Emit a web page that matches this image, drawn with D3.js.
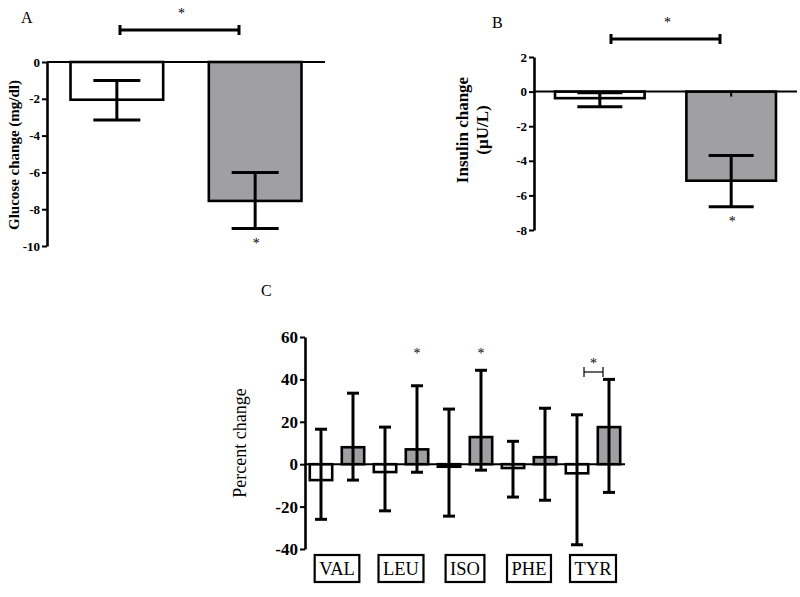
<!DOCTYPE html>
<html>
<head>
<meta charset="utf-8">
<script src="https://cdn.jsdelivr.net/npm/d3@7"></script>
<style>
  html, body { margin: 0; padding: 0; background: #fff; }
  svg { display: block; }
  text { font-family: "Liberation Serif", "Times New Roman", serif; }
</style>
</head>
<body>
<script>
// ---------------- DATA ----------------
const groups = ["Control", "Intervention"];
// Panel A: glucose change (mg/dl)
const glucoseMean = [-2.05, -7.55];
const glucoseLow  = [-3.15, -9.05];
const glucoseHigh = [-1.0, -6.0];
const glucoseTicks = [0, -2, -4, -6, -8, -10];
// Panel B: insulin change (µU/L)
const insulinMean = [-0.38, -5.15];
const insulinLow  = [-0.87, -6.65];
const insulinHigh = [-0.06, -3.7];
const insulinTicks = [2, 0, -2, -4, -6, -8];
// Panel C: percent change of amino acids
const aminoAcids = ["VAL", "LEU", "ISO", "PHE", "TYR"];
const controlMean = [-7.5, -3.7, -1.2, -1.8, -4.3];
const controlLow  = [-26, -22, -24.5, -15.5, -38];
const controlHigh = [16.5, 17.5, 26, 10.8, 23.3];
const treatMean   = [8, 7, 12.8, 3.3, 17.5];
const treatLow    = [-7.5, -3.8, -2.8, -17, -13.3];
const treatHigh   = [33.5, 37, 44.3, 26.4, 40];
const percentTicks = [60, 40, 20, 0, -20, -40];
const starredC = ["LEU", "ISO"];

// ---------------- SETUP ----------------
const W = 800, H = 597;
const svg = d3.select("body").append("svg").attr("width", W).attr("height", H);
const fills = ["#ffffff", "#a0a0a4"];
const ink = "#000";
const fmt = d => String(d);

function errorBar(g, cx, yLow, yHigh, capW, sw) {
  g.append("line").attr("x1", cx).attr("x2", cx).attr("y1", yLow).attr("y2", yHigh)
    .attr("stroke", ink).attr("stroke-width", sw);
  [yLow, yHigh].forEach(yy => g.append("line")
    .attr("x1", cx - capW / 2).attr("x2", cx + capW / 2).attr("y1", yy).attr("y2", yy)
    .attr("stroke", ink).attr("stroke-width", sw));
}

function styleAxis(ax, size) {
  ax.attr("font-family", null);
  ax.select(".domain").attr("stroke", ink).attr("stroke-width", 2.6);
  ax.selectAll(".tick line").attr("stroke", ink).attr("stroke-width", 2);
  ax.selectAll(".tick text").attr("fill", ink)
    .style("font-family", "'Liberation Serif', 'Times New Roman', serif")
    .style("font-weight", "bold").style("font-size", size + "px");
}

function barPanel(opts) {
  const g = svg.append("g");
  const x = d3.scaleBand().domain(groups).range(opts.xRange)
    .paddingInner(opts.pi).paddingOuter(opts.po);
  const y = d3.scaleLinear().domain(opts.yDomain).range(opts.yRange);

  groups.forEach((k, i) => {
    const v = opts.mean[i];
    g.append("rect")
      .attr("x", x(k)).attr("width", x.bandwidth())
      .attr("y", Math.min(y(0), y(v))).attr("height", Math.abs(y(v) - y(0)))
      .attr("fill", fills[i]).attr("stroke", ink).attr("stroke-width", 2.6);
  });
  if (opts.xTicks) {
    groups.forEach(k => g.append("line")
      .attr("x1", x(k) + x.bandwidth() / 2).attr("x2", x(k) + x.bandwidth() / 2)
      .attr("y1", y(0)).attr("y2", y(0) + 5).attr("stroke", ink).attr("stroke-width", 2));
  }
  groups.forEach((k, i) => {
    errorBar(g, x(k) + x.bandwidth() / 2, y(opts.low[i]), y(opts.high[i]), opts.capW, 3);
  });
  g.append("line").attr("x1", opts.xRange[0]).attr("x2", opts.xRange[1])
    .attr("y1", y(0)).attr("y2", y(0)).attr("stroke", ink).attr("stroke-width", 2);

  const ax = g.append("g").attr("transform", `translate(${opts.xRange[0]},0)`)
    .call(d3.axisLeft(y).tickValues(opts.ticks).tickSize(5).tickPadding(2)
      .tickFormat(fmt).tickSizeOuter(0));
  styleAxis(ax, opts.tickFont);

  const bx1 = opts.bracket[0], bx2 = opts.bracket[1], by = opts.bracket[2];
  g.append("line").attr("x1", bx1).attr("x2", bx2).attr("y1", by).attr("y2", by)
    .attr("stroke", ink).attr("stroke-width", 3);
  [bx1, bx2].forEach(bx => g.append("line").attr("x1", bx).attr("x2", bx)
    .attr("y1", by - 5).attr("y2", by + 5).attr("stroke", ink).attr("stroke-width", 3));
  g.append("text").attr("x", (bx1 + bx2) / 2 + 2).attr("y", by - 12)
    .attr("text-anchor", "middle").style("font-size", "14px").text("*");
  const c2 = x(groups[1]) + x.bandwidth() / 2;
  g.append("text").attr("x", c2 + 1).attr("y", y(opts.low[1]) + 19)
    .attr("text-anchor", "middle").style("font-size", "14px").text("*");

  g.append("text").attr("x", opts.letter[1]).attr("y", opts.letter[2])
    .style("font-size", "16px").text(opts.letter[0]);

  const lab = g.append("text")
    .attr("transform", `translate(${opts.label.x},${opts.label.y}) rotate(-90)`)
    .attr("text-anchor", "middle").style("font-weight", "bold")
    .style("font-size", opts.label.size + "px");
  opts.label.lines.forEach((t, i) => lab.append("tspan").attr("x", 0)
    .attr("dy", i === 0 ? 0 : opts.label.lh).text(t));
  return g;
}

// Panel A
barPanel({
  xRange: [47, 325], pi: 0.33, po: 0.17,
  yDomain: [-10, 0], yRange: [246, 62],
  mean: glucoseMean, low: glucoseLow, high: glucoseHigh, ticks: glucoseTicks,
  capW: 47, tickFont: 13, xTicks: false,
  bracket: [120, 239, 30],
  letter: ["A", 21, 23],
  label: { x: 19, y: 155, size: 15, lh: 0, lines: ["Glucose change (mg/dl)"] }
});

// Panel B
barPanel({
  xRange: [534, 797], pi: 0.318, po: 0.16,
  yDomain: [-8, 2], yRange: [230, 57],
  mean: insulinMean, low: insulinLow, high: insulinHigh, ticks: insulinTicks,
  capW: 45, tickFont: 13, xTicks: true,
  bracket: [611, 720, 39],
  letter: ["B", 492, 28],
  label: { x: 468, y: 130, size: 17, lh: 20, lines: ["Insulin change", "(\u00b5U/L)"] }
});

// ---------------- Panel C ----------------
const gc = svg.append("g");
const x0 = d3.scaleBand().domain(aminoAcids).range([305, 625]).padding(0);
const x1 = d3.scaleBand().domain([0, 1]).range([0, x0.bandwidth()])
  .paddingInner(0.3).paddingOuter(0.15);
const yc = d3.scaleLinear().domain([-40, 60]).range([549, 337]);

const series = [
  { mean: controlMean, low: controlLow, high: controlHigh },
  { mean: treatMean, low: treatLow, high: treatHigh }
];

aminoAcids.forEach((aa, i) => {
  series.forEach((s, j) => {
    const v = s.mean[i];
    gc.append("rect")
      .attr("x", x0(aa) + x1(j)).attr("width", x1.bandwidth())
      .attr("y", Math.min(yc(0), yc(v))).attr("height", Math.abs(yc(v) - yc(0)))
      .attr("fill", fills[j]).attr("stroke", ink).attr("stroke-width", 2.6);
  });
});
aminoAcids.forEach((aa, i) => {
  series.forEach((s, j) => {
    errorBar(gc, x0(aa) + x1(j) + x1.bandwidth() / 2, yc(s.low[i]), yc(s.high[i]), 12, 3);
  });
});
gc.append("line").attr("x1", 305).attr("x2", 625).attr("y1", yc(0)).attr("y2", yc(0))
  .attr("stroke", ink).attr("stroke-width", 2);

const axc = gc.append("g").attr("transform", "translate(305,0)")
  .call(d3.axisLeft(yc).tickValues(percentTicks).tickSize(5).tickPadding(2)
    .tickFormat(fmt).tickSizeOuter(0));
styleAxis(axc, 17);

starredC.forEach(aa => {
  gc.append("text").attr("x", x0(aa) + x1(1) + x1.bandwidth() / 2).attr("y", 358)
    .attr("text-anchor", "middle").style("font-size", "14px").text("*");
});
{
  const aa = "TYR";
  const bx1 = x0(aa) + x1(0) + x1.bandwidth() / 2 + 7;
  const bx2 = x0(aa) + x1(1) + x1.bandwidth() / 2 - 6;
  const by = 372;
  gc.append("line").attr("x1", bx1).attr("x2", bx2).attr("y1", by).attr("y2", by)
    .attr("stroke", ink).attr("stroke-width", 1.2);
  [bx1, bx2].forEach(bx => gc.append("line").attr("x1", bx).attr("x2", bx)
    .attr("y1", by - 5).attr("y2", by + 5).attr("stroke", ink).attr("stroke-width", 1.2));
  gc.append("text").attr("x", (bx1 + bx2) / 2).attr("y", by - 4)
    .attr("text-anchor", "middle").style("font-size", "14px").text("*");
}

// category boxes
aminoAcids.forEach(aa => {
  const cx = x0(aa) + x0.bandwidth() / 2;
  const bg = gc.append("g");
  const box = bg.append("rect");
  const t = bg.append("text").attr("x", cx).attr("y", 575).attr("text-anchor", "middle")
    .style("font-size", "18.5px").text(aa);
  const w = t.node().getComputedTextLength() + 9;
  box.attr("x", cx - w / 2).attr("y", 555).attr("width", w).attr("height", 27)
    .attr("fill", "#fff").attr("stroke", ink).attr("stroke-width", 2.2);
});

gc.append("text").attr("x", 261).attr("y", 296).style("font-size", "16px").text("C");
gc.append("text").attr("transform", "translate(246,443) rotate(-90)")
  .attr("text-anchor", "middle").style("font-size", "18px").text("Percent change");
</script>
</body>
</html>
